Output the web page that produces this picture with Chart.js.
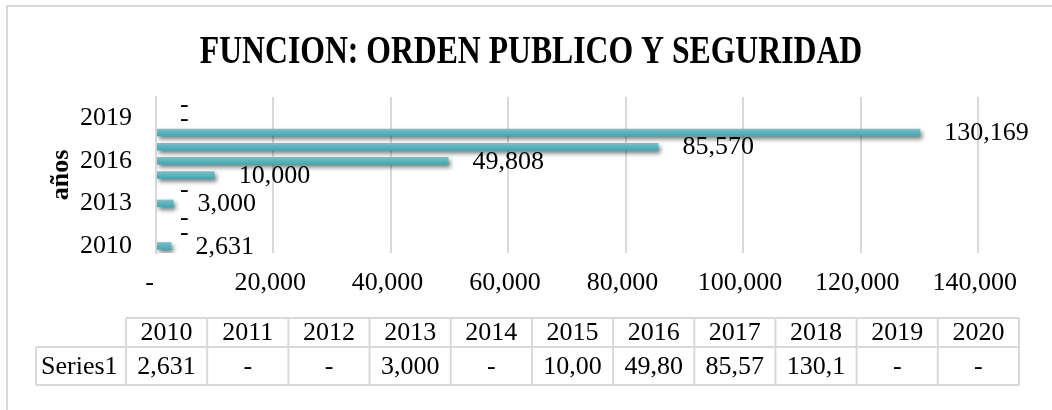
<!DOCTYPE html>
<html>
<head>
<meta charset="utf-8">
<script src="https://cdn.jsdelivr.net/npm/chart.js@4"></script>
<style>
  html, body { margin: 0; padding: 0; background: #fff; }
  #wrap { width: 1052px; height: 410px; position: relative; }
</style>
</head>
<body>
<div id="wrap"><canvas id="chart"></canvas></div>
<script>
// data
const years = ['2010', '2011', '2012', '2013', '2014', '2015', '2016', '2017', '2018', '2019', '2020'];
const series1 = [2631, 0, 0, 3000, 0, 10000, 49808, 85570, 130169, 0, 0];
const seriesName = 'Series1';
const chartTitle = 'FUNCION: ORDEN PUBLICO Y SEGURIDAD';
const xTicks = [0, 20000, 40000, 60000, 80000, 100000, 120000, 140000];

const FONT = "'Liberation Serif', 'Times New Roman', serif";
const GRID = '#d9d9d9';

function fmt(v) {
  return v === 0 ? '-' : v.toLocaleString('en-US');
}

// frame, background and the (narrow) title
const framePlugin = {
  id: 'frame',
  beforeDraw(chart) {
    const ctx = chart.ctx;
    ctx.save();
    ctx.fillStyle = '#fff';
    ctx.fillRect(0, 0, chart.width, chart.height);
    ctx.strokeStyle = GRID;
    ctx.lineWidth = 2;
    ctx.strokeRect(7, 6, chart.width + 50, chart.height + 50);

    // title is a condensed bold face in the original
    ctx.font = 'bold 39px ' + FONT;
    ctx.fillStyle = '#000';
    ctx.textAlign = 'center';
    ctx.textBaseline = 'alphabetic';
    ctx.translate(531, 63);
    ctx.scale(0.813, 1);
    ctx.fillText(chartTitle, 0, 0);
    ctx.restore();
  }
};

// drop shadow under bars + value labels
const barExtras = {
  id: 'barExtras',
  beforeDatasetsDraw(chart) {
    const ctx = chart.ctx;
    ctx.save();
    ctx.shadowColor = 'rgba(0,0,0,0.5)';
    ctx.shadowBlur = 4;
    ctx.shadowOffsetX = 2;
    ctx.shadowOffsetY = 3;
  },
  afterDatasetsDraw(chart) {
    const ctx = chart.ctx;
    ctx.restore();
    const meta = chart.getDatasetMeta(0);
    ctx.save();
    ctx.font = '26px ' + FONT;
    ctx.fillStyle = '#000';
    ctx.textAlign = 'left';
    ctx.textBaseline = 'middle';
    meta.data.forEach((bar, i) => {
      ctx.fillText(fmt(series1[i]), bar.x + 24, bar.y + 1);
    });
    ctx.restore();
  }
};

// data table under the axis
const dataTable = {
  id: 'dataTable',
  afterDraw(chart) {
    const ctx = chart.ctx;
    const left = 126, right = 1019;
    const colW = (right - left) / years.length;
    const top = 318, mid = 347, bottom = 385;
    const nameLeft = 36;

    ctx.save();
    ctx.strokeStyle = GRID;
    ctx.lineWidth = 2;
    ctx.beginPath();
    ctx.moveTo(left, top); ctx.lineTo(right, top);
    ctx.moveTo(nameLeft, mid); ctx.lineTo(right, mid);
    ctx.moveTo(nameLeft, bottom); ctx.lineTo(right, bottom);
    ctx.moveTo(nameLeft, mid); ctx.lineTo(nameLeft, bottom);
    for (let i = 0; i <= years.length; i++) {
      const x = left + i * colW;
      ctx.moveTo(x, top); ctx.lineTo(x, bottom);
    }
    ctx.stroke();

    ctx.font = '26px ' + FONT;
    ctx.fillStyle = '#000';
    ctx.textBaseline = 'middle';
    ctx.textAlign = 'left';
    ctx.fillText(seriesName, nameLeft + 5, (mid + bottom) / 2 + 1);
    ctx.textAlign = 'center';
    years.forEach((y, i) => {
      const cx = left + (i + 0.5) * colW;
      ctx.fillText(y, cx, (top + mid) / 2 + 1);
      // excel cuts numbers that don't fit the cell
      let t = fmt(series1[i]);
      while (t.length > 1 && ctx.measureText(t).width > colW - 12) t = t.slice(0, -1);
      ctx.fillText(t, cx, (mid + bottom) / 2 + 1);
    });
    ctx.restore();
  }
};

function barGradient(context) {
  const chart = context.chart;
  const ys = chart.scales.y;
  if (!ys || !chart.chartArea) return '#56B4BF';
  const yc = ys.getPixelForValue(context.dataIndex);
  const h = (chart.chartArea.bottom - chart.chartArea.top) / years.length * 0.53;
  const g = chart.ctx.createLinearGradient(0, yc - h / 2, 0, yc + h / 2);
  g.addColorStop(0, '#76C4CC');
  g.addColorStop(0.5, '#58B5BF');
  g.addColorStop(1, '#48A6B1');
  return g;
}

new Chart(document.getElementById('chart'), {
  type: 'bar',
  data: {
    labels: years,
    datasets: [{
      label: seriesName,
      data: series1,
      backgroundColor: barGradient,
      borderWidth: 0,
      categoryPercentage: 1,
      barPercentage: 0.53
    }]
  },
  plugins: [framePlugin, barExtras, dataTable],
  options: {
    indexAxis: 'y',
    responsive: true,
    maintainAspectRatio: false,
    animation: false,
    layout: { padding: { top: 97, left: 40, right: 74, bottom: 107 } },
    plugins: {
      legend: { display: false },
      tooltip: { enabled: false },
      title: { display: false }
    },
    scales: {
      x: {
        min: 0,
        max: 140000,
        afterBuildTicks(scale) { scale.ticks = xTicks.map(v => ({ value: v })); },
        afterFit(scale) { scale.height = 50; },
        border: { display: false },
        grid: { color: GRID, lineWidth: 2, drawTicks: false },
        ticks: {
          padding: 15,
          color: '#000',
          font: { family: FONT, size: 26 },
          maxRotation: 0,
          callback: v => v === 0 ? '-  ' : v.toLocaleString('en-US') + ' '
        }
      },
      y: {
        reverse: true,
        afterFit(scale) { scale.width = 116; },
        border: { display: true, color: GRID, width: 2 },
        grid: { display: false, drawTicks: false },
        title: {
          display: true,
          text: 'años',
          color: '#000',
          font: { family: FONT, size: 26, weight: 'bold' },
          padding: { top: 6, bottom: 0 }
        },
        ticks: {
          autoSkip: false,
          padding: 24,
          color: '#000',
          font: { family: FONT, size: 26 },
          callback: (v, i) => i % 3 === 0 ? years[i] : ''
        }
      }
    }
  }
});
</script>
</body>
</html>
